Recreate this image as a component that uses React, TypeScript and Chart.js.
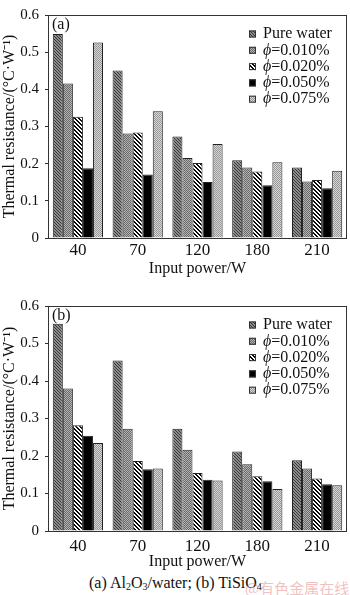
import React, { useEffect, useRef } from 'react';
import { Chart, registerables } from 'chart.js';

Chart.register(...registerables);

const categories = ['40', '70', '120', '180', '210'];
const seriesNames = ['Pure water', 'ϕ=0.010%', 'ϕ=0.020%', 'ϕ=0.050%', 'ϕ=0.075%'];
const yMin = 0;
const yMax = 0.6;
const yStep = 0.1;

// (a) Al2O3/water
const aPure = [0.549, 0.451, 0.273, 0.209, 0.19];
const a010 = [0.416, 0.281, 0.215, 0.19, 0.152];
const a020 = [0.326, 0.284, 0.202, 0.179, 0.156];
const a050 = [0.188, 0.171, 0.151, 0.142, 0.134];
const a075 = [0.526, 0.341, 0.253, 0.204, 0.181];

// (b) TiSiO4
const bPure = [0.553, 0.455, 0.273, 0.212, 0.189];
const b010 = [0.38, 0.273, 0.217, 0.178, 0.167];
const b020 = [0.282, 0.187, 0.155, 0.146, 0.14];
const b050 = [0.254, 0.165, 0.137, 0.133, 0.125];
const b075 = [0.235, 0.167, 0.135, 0.112, 0.122];

const FONT = '"Liberation Serif", "Times New Roman", serif';

function makeTile(size: number, fn: (x: number, y: number) => number): CanvasPattern | string {
  const c = document.createElement('canvas');
  c.width = size;
  c.height = size;
  const ctx = c.getContext('2d');
  if (!ctx) return '#888';
  const img = ctx.createImageData(size, size);
  for (let y = 0; y < size; y++) {
    for (let x = 0; x < size; x++) {
      const v = fn(x, y);
      const i = (y * size + x) * 4;
      img.data[i] = v;
      img.data[i + 1] = v;
      img.data[i + 2] = v;
      img.data[i + 3] = 255;
    }
  }
  ctx.putImageData(img, 0, 0);
  const p = ctx.createPattern(c, 'repeat');
  return p || '#888';
}

function makePatterns() {
  const mod = (n: number, m: number) => ((n % m) + m) % m;
  return [
    makeTile(6, (x, y) => (mod(x - y, 3) === 0 ? 55 : 140)),
    makeTile(6, (x, y) => ((x + y) % 2 === 0 ? 105 : 180)),
    makeTile(8, (x, y) => (mod(x - y, 4) < 2 ? 10 : 255)),
    makeTile(2, () => 0),
    makeTile(6, (x, y) => ((x + y) % 2 === 0 ? 150 : 215)),
  ];
}

const decorPlugin = {
  id: 'decor',
  afterDatasetsDraw(chart: any, _args: any, opts: any) {
    const { ctx, chartArea } = chart;
    const { left, top, right, bottom } = chartArea;
    ctx.save();
    ctx.strokeStyle = '#333';
    ctx.lineWidth = 1;
    ctx.strokeRect(left + 0.5, top + 0.5, right - left - 1, bottom - top);
    ctx.fillStyle = '#111';
    ctx.textBaseline = 'middle';
    ctx.textAlign = 'left';
    ctx.font = `16px ${FONT}`;
    ctx.fillText(opts.panel, left + 4, top + 10);
    chart.data.datasets.forEach((ds: any, i: number) => {
      const y = top + 19 + i * 16.3;
      const bx = right - 98;
      ctx.fillStyle = ds.backgroundColor;
      ctx.fillRect(bx, y - 3.5, 7, 7);
      ctx.strokeStyle = '#333';
      ctx.strokeRect(bx + 0.5, y - 3, 6, 6);
      ctx.fillStyle = '#111';
      let tx = bx + 14;
      const lbl: string = ds.label;
      if (lbl.startsWith('ϕ')) {
        ctx.font = `italic 16px ${FONT}`;
        ctx.fillText('ϕ', tx, y);
        tx += ctx.measureText('ϕ').width;
        ctx.font = `16px ${FONT}`;
        ctx.fillText(lbl.slice(1), tx, y);
      } else {
        ctx.font = `16px ${FONT}`;
        ctx.fillText(lbl, tx, y);
      }
    });
    ctx.restore();
  },
};

type PanelProps = {
  panel: string;
  series: number[][];
  height: number;
  bottom: number;
  tickPad: number;
  top: number;
};

function Panel({ panel, series, height, bottom, tickPad, top }: PanelProps) {
  const ref = useRef<HTMLCanvasElement>(null);
  useEffect(() => {
    if (!ref.current) return;
    const patterns = makePatterns();
    const chart = new Chart(ref.current, {
      type: 'bar',
      data: {
        labels: categories,
        datasets: series.map((vals, i) => ({
          label: seriesNames[i],
          data: vals,
          backgroundColor: patterns[i] as any,
          borderColor: '#222',
          borderWidth: 1,
          categoryPercentage: 0.84,
          barPercentage: 1,
        })),
      },
      options: {
        responsive: false,
        animation: false,
        devicePixelRatio: 1,
        layout: { padding: { top: 6, right: 3, left: 0, bottom: 0 } },
        plugins: {
          legend: { display: false },
          tooltip: { enabled: false },
          decor: { panel },
        } as any,
        scales: {
          x: {
            grid: { display: false, drawTicks: false },
            border: { display: false },
            ticks: { color: '#111', font: { family: FONT, size: 17 }, padding: tickPad },
            title: {
              display: true,
              text: 'Input power/W',
              color: '#111',
              font: { family: FONT, size: 16 },
              padding: { top: 0, bottom: 0 },
            },
            afterFit: (scale: any) => {
              scale.height = height - bottom;
            },
          },
          y: {
            min: yMin,
            max: yMax,
            grid: { display: true, drawOnChartArea: false, drawTicks: true, tickLength: 3, color: '#333' },
            border: { display: false },
            ticks: {
              stepSize: yStep,
              color: '#111',
              font: { family: FONT, size: 15 },
              padding: 6,
              callback: (v: any) => (Number(v) === 0 ? '0' : Number(v).toFixed(1)),
            },
            title: {
              display: true,
              text: 'Thermal resistance/(°C·W⁻¹)',
              color: '#111',
              font: { family: FONT, size: 16 },
              padding: { top: 0, bottom: 0 },
            },
            afterFit: (scale: any) => {
              scale.width = 48;
            },
          },
        },
      },
      plugins: [decorPlugin],
    });
    return () => chart.destroy();
  }, []);
  return (
    <canvas
      ref={ref}
      width={350}
      height={height}
      style={{ position: 'absolute', left: 0, top, width: 350, height }}
    />
  );
}

export default function App() {
  return (
    <div
      style={{
        position: 'absolute',
        left: 0,
        top: 0,
        width: 350,
        height: 595,
        background: '#fff',
        overflow: 'hidden',
      }}
    >
      <Panel panel="(a)" series={[aPure, a010, a020, a050, a075]} height={278} bottom={238} tickPad={2} top={0} />
      <Panel panel="(b)" series={[bPure, b010, b020, b050, b075]} height={280} bottom={240} tickPad={5} top={291} />
      <div
        style={{
          position: 'absolute',
          left: 89,
          top: 573,
          fontFamily: FONT,
          fontSize: 16,
          lineHeight: '20px',
          color: '#111',
          whiteSpace: 'nowrap',
        }}
      >
        (a) Al<sub style={{ fontSize: 10, verticalAlign: '-2px', lineHeight: 0 }}>2</sub>O
        <sub style={{ fontSize: 10, verticalAlign: '-2px', lineHeight: 0 }}>3</sub>/water; (b) TiSiO
        <sub style={{ fontSize: 10, verticalAlign: '-2px', lineHeight: 0 }}>4</sub>
      </div>
      <div
        style={{
          position: 'absolute',
          left: 245,
          top: 579,
          fontFamily: '"Noto Sans CJK SC", sans-serif',
          fontSize: 15,
          lineHeight: '18px',
          color: 'rgba(230, 140, 140, 0.55)',
          whiteSpace: 'nowrap',
        }}
      >
        @有色金属在线
      </div>
    </div>
  );
}
